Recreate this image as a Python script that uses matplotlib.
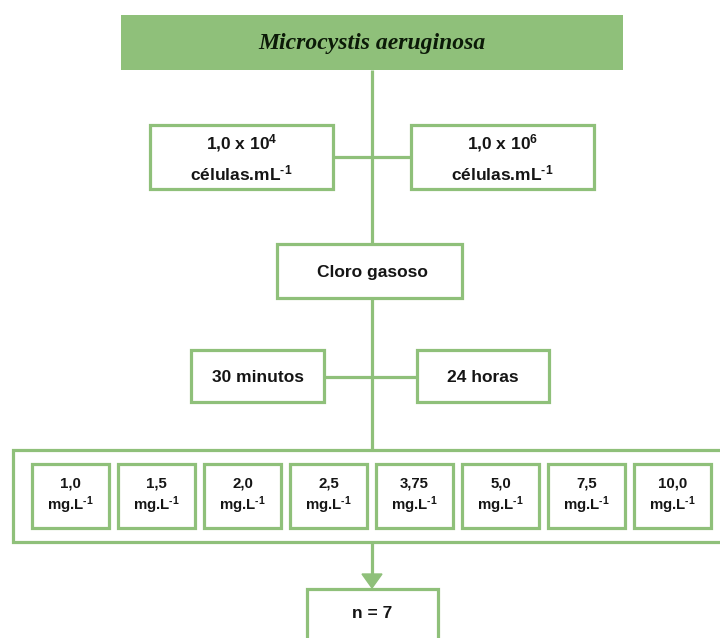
import matplotlib
matplotlib.use("Agg")
import matplotlib.pyplot as plt
from matplotlib.patches import Rectangle, Polygon

plt.rcParams['mathtext.fontset'] = 'custom'
plt.rcParams['mathtext.rm'] = 'Liberation Sans:bold'
plt.rcParams['mathtext.bf'] = 'Liberation Sans:bold'
plt.rcParams['mathtext.default'] = 'bf'

# flowchart content
species = "Microcystis aeruginosa"
densities = [r"1,0 x 10$^{4}$", r"1,0 x 10$^{6}$"]
density_unit = r"células.mL$^{\text{-1}}$"
oxidant = "Cloro gasoso"
contact_times = ["30 minutos", "24 horas"]
doses = ["1,0", "1,5", "2,0", "2,5", "3,75", "5,0", "7,5", "10,0"]
dose_unit = r"mg.L$^{\text{-1}}$"
replicates = "n = 7"

green = '#8fc07a'
lw = 2.3
font = 'Liberation Sans'
ink = '#151515'

fig = plt.figure(figsize=(7.2, 6.38), dpi=100)
ax = fig.add_axes([0, 0, 1, 1])
ax.set_xlim(0, 720)
ax.set_ylim(638, 0)
ax.axis('off')


def box(x0, y0, x1, y1, fill='white', z=3):
    ax.add_patch(Rectangle((x0, y0), x1 - x0, y1 - y0, facecolor=fill,
                           edgecolor=green, linewidth=lw, zorder=z))


def line(xs, ys):
    ax.plot(xs, ys, color=green, linewidth=lw, zorder=1, solid_capstyle='butt')


cx = 372

# main spine
line([cx, cx], [70, 449])

# title
ax.add_patch(Rectangle((121, 15), 623 - 121, 55, facecolor=green,
                       edgecolor='none', zorder=3))
ax.text(cx, 43, species, fontsize=17, fontstyle='italic', fontweight='bold',
        family='Liberation Serif', ha='center', va='center', zorder=4,
        color='#0c1a08')

# cell densities
line([333, 411], [157, 157])
for (x0, x1), d in zip([(150, 333), (411, 594)], densities):
    box(x0, 125, x1, 189)
    xm = (x0 + x1) / 2
    ax.text(xm, 143, d, fontsize=12.5, fontweight='bold', family=font,
            ha='center', va='center', zorder=4, color=ink)
    ax.text(xm, 173, density_unit, fontsize=12.5, fontweight='bold',
            family=font, ha='center', va='center', zorder=4, color=ink)

# oxidant
box(277, 244, 462, 298)
ax.text(cx, 272, oxidant, fontsize=12.5, fontweight='bold', family=font,
        ha='center', va='center', zorder=4, color=ink)

# contact times
line([324, 417], [377, 377])
for (x0, x1), t in zip([(191, 324), (417, 549)], contact_times):
    box(x0, 350, x1, 402)
    ax.text((x0 + x1) / 2, 377, t, fontsize=12.5, fontweight='bold',
            family=font, ha='center', va='center', zorder=4, color=ink)

# doses
box(13, 450, 730, 542, z=2)
for i, dose in enumerate(doses):
    x0 = 32 + i * 86
    x1 = x0 + 77
    box(x0, 464, x1, 528)
    xm = (x0 + x1) / 2
    ax.text(xm, 484, dose, fontsize=10.8, fontweight='bold', family=font,
            ha='center', va='center', zorder=4, color=ink)
    ax.text(xm, 505, dose_unit, fontsize=10.8, fontweight='bold',
            family=font, ha='center', va='center', zorder=4, color=ink)

# arrow to replicates
line([cx, cx], [542, 576])
ax.add_patch(Polygon([[cx - 10, 574], [cx + 10, 574], [cx, 588]],
                     closed=True, facecolor=green, edgecolor=green,
                     linewidth=1, zorder=3))
box(307, 589, 438, 660)
ax.text(cx, 613, replicates, fontsize=12.5, fontweight='bold', family=font,
        ha='center', va='center', zorder=4, color=ink)

fig.savefig('out.png', dpi=100, facecolor='white')
